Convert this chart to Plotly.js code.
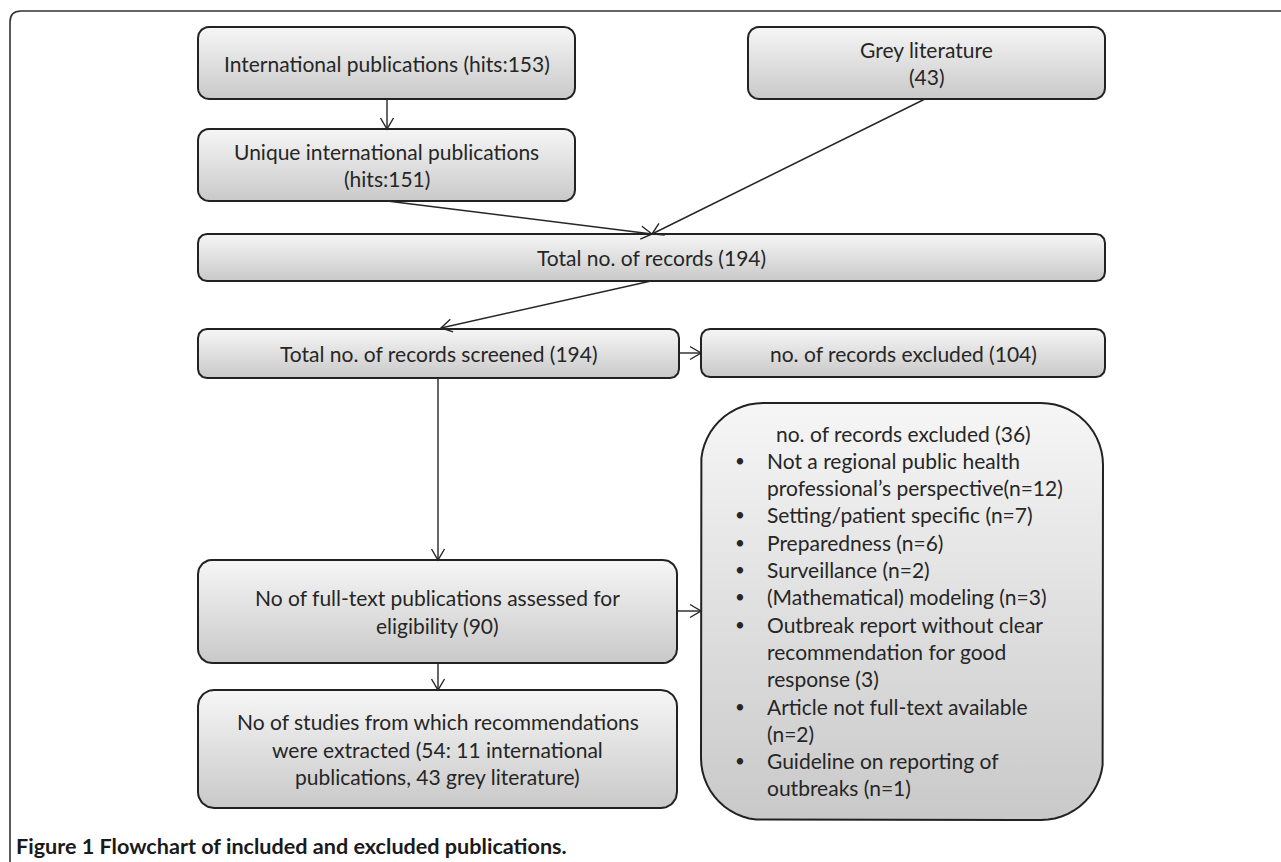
<!DOCTYPE html>
<html>
<head>
<meta charset="utf-8">
<script src="https://cdn.plot.ly/plotly-3.0.1.min.js"></script>
<style>
  html, body { margin: 0; padding: 0; background: #ffffff; }
  #chart { width: 1281px; height: 862px; }
</style>
</head>
<body>
<div id="chart"></div>
<script>
// ---------- content (data) ----------
const nodeLabels = [
  ["International publications (hits:153)"],
  ["Grey literature", "(43)"],
  ["Unique international publications", "(hits:151)"],
  ["Total no. of records (194)"],
  ["Total no. of records screened (194)"],
  ["no. of records excluded (104)"],
  ["No of full-text publications assessed for", "eligibility (90)"],
  ["No of studies from which recommendations", "were extracted (54: 11 international", "publications, 43 grey literature)"]
];
const excludedHeader = "no. of records excluded (36)";
const exclusionReasons = [
  ["Not a regional public health", "professional\u2019s perspective(n=12)"],
  ["Setting/patient specific (n=7)"],
  ["Preparedness (n=6)"],
  ["Surveillance (n=2)"],
  ["(Mathematical) modeling (n=3)"],
  ["Outbreak report without clear", "recommendation for good", "response (3)"],
  ["Article not full-text available", "(n=2)"],
  ["Guideline on reporting of", "outbreaks (n=1)"]
];
const captionBold = "Figure 1";
const captionText = "Flowchart of included and excluded publications.";

// ---------- layout geometry ----------
const W = 1281, H = 862;
// boxes: [x0, y0, x1, y1, radius]
const boxes = [
  [198, 27, 575, 99, 11],
  [748, 27, 1105, 99, 11],
  [198, 129, 575, 201, 11],
  [198, 234, 1105, 281, 9],
  [198, 329, 679, 378, 9],
  [701, 329, 1105, 377, 9],
  [198, 560, 677, 663, 14],
  [198, 690, 677, 808, 16]
];
const bigBox = [701, 403, 1103, 820, 62];
// arrows: [x0, y0, x1, y1]
const arrows = [
  [387, 99, 387, 129],
  [387, 201, 652, 234],
  [925, 99, 652, 234],
  [651, 281, 441, 328],
  [679, 353, 701, 353],
  [438, 378, 438, 560],
  [677, 611, 701, 611],
  [438, 663, 438, 690]
];

const FONT = "Lato, 'Open Sans', sans-serif";
const TXT = "#262626";
const FS = 21;
const LH = 27.3;

function roundRect(x0, y0, x1, y1, r) {
  const xs = [], ys = [];
  const corners = [
    [x1 - r, y0 + r, -Math.PI / 2, 0],
    [x1 - r, y1 - r, 0, Math.PI / 2],
    [x0 + r, y1 - r, Math.PI / 2, Math.PI],
    [x0 + r, y0 + r, Math.PI, 1.5 * Math.PI]
  ];
  const n = 14;
  corners.forEach(([cx, cy, a0, a1]) => {
    for (let i = 0; i <= n; i++) {
      const a = a0 + (a1 - a0) * i / n;
      xs.push(cx + r * Math.cos(a));
      ys.push(cy + r * Math.sin(a));
    }
  });
  xs.push(xs[0]); ys.push(ys[0]);
  return [xs, ys];
}

const traces = [];
function boxTrace(b) {
  const [xs, ys] = roundRect(b[0], b[1], b[2], b[3], b[4]);
  return {
    type: "scatter", mode: "lines", x: xs, y: ys,
    fill: "toself",
    fillgradient: {
      type: "vertical",
      colorscale: [[0, "#f6f6f6"], [1, "#c9c9c9"]],
      start: b[1], stop: b[3]
    },
    line: { color: "#222222", width: 2 },
    hoverinfo: "skip", showlegend: false
  };
}
boxes.forEach(b => traces.push(boxTrace(b)));
traces.push(boxTrace(bigBox));

// arrows with open V heads
const ax = [], ay = [];
arrows.forEach(([x0, y0, x1, y1]) => {
  const dx = x1 - x0, dy = y1 - y0;
  const len = Math.hypot(dx, dy);
  const ux = dx / len, uy = dy / len;
  const L = 11, w = 6.5;
  const bx = x1 - ux * L, by = y1 - uy * L;
  ax.push(x0, x1, null, bx - uy * w, x1, bx + uy * w, null);
  ay.push(y0, y1, null, by + ux * w, y1, by - ux * w, null);
});
traces.push({
  type: "scatter", mode: "lines", x: ax, y: ay,
  line: { color: "#262626", width: 1.4 },
  hoverinfo: "skip", showlegend: false, connectgaps: false
});

// annotations
const ann = [];
function addLines(lines, cx, cy) {
  const n = lines.length;
  lines.forEach((t, i) => {
    ann.push({
      x: cx, y: cy + (i - (n - 1) / 2) * LH, xref: "x", yref: "y",
      text: t, showarrow: false, xanchor: "center", yanchor: "middle",
      font: { family: FONT, size: FS, color: TXT }
    });
  });
}
nodeLabels.forEach((lines, i) => {
  const b = boxes[i];
  addLines(lines, (b[0] + b[2]) / 2, (b[1] + b[3]) / 2);
});

// big exclusion box text
let ly = 433;
ann.push({
  x: 903, y: ly, xref: "x", yref: "y", text: excludedHeader, showarrow: false,
  xanchor: "center", yanchor: "middle", font: { family: FONT, size: FS, color: TXT }
});
exclusionReasons.forEach(lines => {
  lines.forEach((t, j) => {
    ly += LH;
    if (j === 0) {
      ann.push({
        x: 740, y: ly, xref: "x", yref: "y", text: "\u2022", showarrow: false,
        xanchor: "center", yanchor: "middle", font: { family: FONT, size: 17, color: TXT }
      });
    }
    ann.push({
      x: 765, y: ly, xref: "x", yref: "y", text: t, showarrow: false,
      xanchor: "left", yanchor: "middle", font: { family: FONT, size: FS, color: TXT }
    });
  });
});

// caption
ann.push({
  x: 14, y: 846, xref: "x", yref: "y",
  text: "<b>" + captionBold + " " + captionText + "</b>", showarrow: false,
  xanchor: "left", yanchor: "middle",
  font: { family: FONT, size: 21.6, color: "#1a1a1a" }
});

// outer frame
const frame = {
  type: "path",
  path: "M 10 875 L 10 22 Q 10 11 21 11 L 1290 11",
  xref: "x", yref: "y",
  line: { color: "#333333", width: 1.6 }
};

const layout = {
  width: W, height: H,
  margin: { l: 0, r: 0, t: 0, b: 0, pad: 0 },
  paper_bgcolor: "#ffffff", plot_bgcolor: "#ffffff",
  xaxis: { range: [0, W], visible: false, fixedrange: true },
  yaxis: { range: [H, 0], visible: false, fixedrange: true },
  shapes: [frame],
  annotations: ann,
  showlegend: false
};

Plotly.newPlot("chart", traces, layout, { displayModeBar: false, staticPlot: true });
</script>
</body>
</html>
